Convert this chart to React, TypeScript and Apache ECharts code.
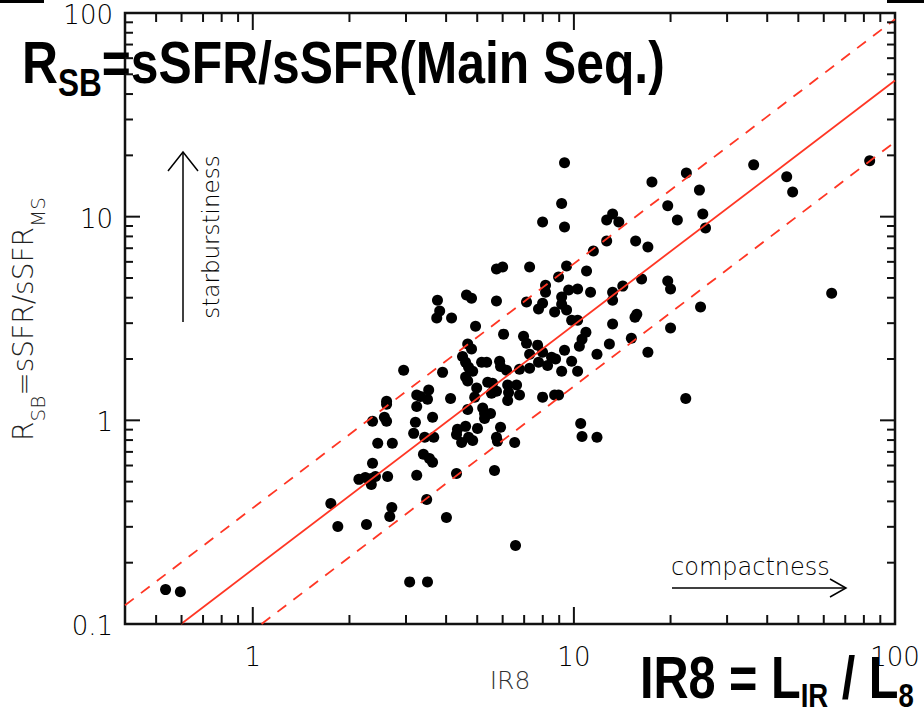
import React, { useEffect, useRef } from 'react';
import * as echarts from 'echarts';

// IR8 (x) and R_SB (y) for each galaxy
const ir8 = [
  9.35, 9.16, 7.99, 9.35, 11.5, 5.74, 6.0, 7.28, 9.49, 10.95,
  8.96, 8.16, 8.16, 9.63, 10.27, 11.27, 3.76, 4.63, 4.8, 5.74,
  7.12, 7.99, 7.76, 9.16, 9.16, 8.71, 9.49, 3.82, 3.74, 4.16,
  4.94, 9.84, 10.27, 36.3, 83.4, 46.0, 48.0, 17.5, 22.4, 24.6,
  19.6, 21.0, 25.2, 25.7, 12.65, 13.2, 13.8, 12.65, 15.57, 17.0,
  13.2, 13.2, 14.2, 16.25, 19.6, 20.0, 63.5, 24.8, 15.7, 15.5,
  13.2, 12.9, 15.1, 20.0, 17.0, 22.3, 6.04, 6.97, 7.12, 4.67,
  4.8, 7.71, 7.99, 9.35, 10.9, 10.6, 10.4, 11.8, 7.28, 4.5,
  4.6, 5.16, 5.35, 5.87, 5.91, 8.52, 8.77, 9.84, 7.76, 7.28,
  8.28, 6.77, 2.95, 3.9, 9.16, 10.27, 4.84, 4.6, 4.67, 6.17,
  5.39, 5.58, 6.22, 6.63, 6.26, 5.74, 5.54, 4.98, 4.7, 6.77,
  7.99, 8.71, 8.96, 6.22, 4.13, 3.53, 3.24, 3.33, 3.5, 3.24,
  2.61, 2.61, 4.91, 4.67, 5.2, 5.27, 5.5, 5.27, 3.63, 3.21,
  2.57, 2.61, 2.36, 5.01, 4.6, 4.34, 4.31, 5.91, 3.17, 3.43,
  3.66, 4.47, 4.7, 4.84, 5.74, 5.78, 6.54, 2.45, 2.72, 10.5,
  10.6, 11.8, 3.4, 3.55, 3.63, 2.36, 2.14, 2.24, 2.34, 2.41,
  2.34, 2.63, 3.24, 4.31, 5.66, 1.75, 1.84, 2.26, 2.71, 2.67,
  3.48, 4.01, 6.58, 3.08, 3.5, 0.535, 0.595,
];
const rsb = [
  18.4, 11.6, 9.42, 8.9, 6.78, 5.53, 5.66, 5.66, 5.72, 5.41,
  5.05, 4.61, 4.26, 4.36, 4.41, 4.26, 3.89, 4.12, 3.98, 3.85,
  3.81, 3.76, 3.52, 4.03, 3.72, 3.4, 3.48, 3.44, 3.18, 3.18,
  2.9, 3.1, 3.1, 17.96, 18.8, 15.7, 13.2, 14.8, 16.4, 13.5,
  11.3, 9.63, 10.3, 8.8, 9.63, 10.3, 9.42, 7.59, 7.59, 7.1,
  4.26, 3.89, 4.56, 4.94, 4.83, 4.41, 4.21, 3.6, 3.32, 3.21,
  2.97, 2.37, 2.53, 2.84, 2.16, 1.28, 2.65, 2.59, 2.39, 2.37,
  2.24, 2.34, 2.16, 2.21, 2.71, 2.5, 2.31, 2.11, 2.11, 2.06,
  1.93, 1.93, 1.93, 1.95, 1.84, 2.04, 2.0, 1.95, 1.93, 1.8,
  1.86, 1.78, 1.76, 1.72, 1.74, 1.74, 1.74, 1.63, 1.56, 1.76,
  1.54, 1.52, 1.49, 1.49, 1.37, 1.39, 1.36, 1.44, 1.82, 1.33,
  1.3, 1.33, 1.33, 1.25, 1.28, 1.41, 1.33, 1.31, 1.27, 1.17,
  1.24, 1.2, 1.3, 1.13, 1.15, 1.08, 1.08, 1.02, 1.035, 0.978,
  1.035, 0.989, 0.989, 0.913, 0.934, 0.903, 0.853, 0.924, 0.863, 0.825,
  0.825, 0.779, 0.825, 0.797, 0.825, 0.79, 0.779, 0.771, 0.771, 0.966,
  0.834, 0.825, 0.681, 0.65, 0.622, 0.615, 0.513, 0.524, 0.518, 0.53,
  0.484, 0.53, 0.537, 0.548, 0.567, 0.391, 0.301, 0.308, 0.373, 0.337,
  0.409, 0.333, 0.243, 0.161, 0.161, 0.1475, 0.144,
];

// relation lines (R_SB vs IR8): main relation and factor-2 envelope
const mainLineX = [0.598, 100];
const mainLineY = [0.1, 46.6];
const upperLineX = [0.4, 100];
const upperLineY = [0.1236, 93.1];
const lowerLineX = [1.065, 100];
const lowerLineY = [0.1, 23.3];

// axis ticks & labels
const xMajorTicks = [1, 10];
const xMinorTicks = [0.5, 0.6, 0.7, 0.8, 0.9, 2, 3, 4, 5, 6, 7, 8, 9, 20, 30, 40, 50, 60, 70, 80, 90];
const yMajorTicks = [1, 10];
const yMinorTicks = [0.2, 0.3, 0.4, 0.5, 0.6, 0.7, 0.8, 0.9, 2, 3, 4, 5, 6, 7, 8, 9, 20, 30, 40, 50, 60, 70, 80, 90];
const xLabelValues = [1, 10, 100];
const xTickLabels = ['1', '10', '100'];
const yLabelValues = [0.1, 1, 10, 100];
const yTickLabels = ['0.1', '1', '10', '100'];

const X_MIN = 0.4, X_MAX = 100, Y_MIN = 0.1, Y_MAX = 100;

const RED = '#ff3624';
const AXIS = '#111111';
const LIGHT_FONT = 'DejaVu Sans';
const LIGHT_WEIGHT = 200;

export default function App() {
  const ref = useRef<HTMLDivElement>(null);

  useEffect(() => {
    if (!ref.current) return;
    const chart = echarts.init(ref.current, undefined, { renderer: 'svg' });

    const points = ir8.map((x, i) => [x, rsb[i]]);
    const pair = (xs: number[], ys: number[]) => xs.map((x, i) => [x, ys[i]]);

    const xTickData = [
      ...xMajorTicks.map((v) => [v, 1, 1]),
      ...xMinorTicks.map((v) => [v, 1, 0]),
    ];
    const yTickData = [
      ...yMajorTicks.map((v) => [1, v, 1]),
      ...yMinorTicks.map((v) => [1, v, 0]),
    ];
    const tickStyle = { stroke: AXIS, lineWidth: 2 };
    const labelStyle = {
      fill: '#000',
      fontSize: 26,
      lineHeight: 24,
      fontFamily: LIGHT_FONT,
      fontWeight: LIGHT_WEIGHT,
    };

    const option: any = {
      animation: false,
      backgroundColor: '#ffffff',
      grid: {
        left: 125,
        top: 13,
        width: 770,
        height: 611,
        show: true,
        borderColor: AXIS,
        borderWidth: 2.5,
        backgroundColor: 'transparent',
      },
      xAxis: {
        type: 'log',
        logBase: 10,
        min: X_MIN,
        max: X_MAX,
        axisLine: { show: false },
        axisTick: { show: false },
        axisLabel: { show: false },
        splitLine: { show: false },
      },
      yAxis: {
        type: 'log',
        logBase: 10,
        min: Y_MIN,
        max: Y_MAX,
        axisLine: { show: false },
        axisTick: { show: false },
        axisLabel: { show: false },
        splitLine: { show: false },
      },
      series: [
        {
          type: 'scatter',
          data: points,
          symbol: 'circle',
          symbolSize: 11,
          itemStyle: { color: '#000000', opacity: 1 },
          z: 2,
        },
        {
          type: 'line',
          data: pair(mainLineX, mainLineY),
          showSymbol: false,
          symbol: 'none',
          clip: true,
          lineStyle: { color: RED, width: 1.8 },
          z: 3,
        },
        {
          type: 'line',
          data: pair(upperLineX, upperLineY),
          showSymbol: false,
          symbol: 'none',
          clip: true,
          lineStyle: { color: RED, width: 1.8, type: [11, 9] },
          z: 3,
        },
        {
          type: 'line',
          data: pair(lowerLineX, lowerLineY),
          showSymbol: false,
          symbol: 'none',
          clip: true,
          lineStyle: { color: RED, width: 1.8, type: [11, 9] },
          z: 3,
        },
        {
          type: 'custom',
          coordinateSystem: 'cartesian2d',
          silent: true,
          clip: false,
          z: 5,
          data: xTickData,
          renderItem: (params: any, api: any) => {
            const cs = params.coordSys;
            const p = api.coord([api.value(0), api.value(1)]);
            const len = api.value(2) ? 17 : 9;
            const bottom = cs.y + cs.height;
            return {
              type: 'group',
              children: [
                { type: 'line', shape: { x1: p[0], y1: bottom, x2: p[0], y2: bottom - len }, style: tickStyle },
                { type: 'line', shape: { x1: p[0], y1: cs.y, x2: p[0], y2: cs.y + len }, style: tickStyle },
              ],
            };
          },
        },
        {
          type: 'custom',
          coordinateSystem: 'cartesian2d',
          silent: true,
          clip: false,
          z: 5,
          data: yTickData,
          renderItem: (params: any, api: any) => {
            const cs = params.coordSys;
            const p = api.coord([api.value(0), api.value(1)]);
            const len = api.value(2) ? 15 : 8;
            const right = cs.x + cs.width;
            return {
              type: 'group',
              children: [
                { type: 'line', shape: { x1: cs.x, y1: p[1], x2: cs.x + len, y2: p[1] }, style: tickStyle },
                { type: 'line', shape: { x1: right, y1: p[1], x2: right - len, y2: p[1] }, style: tickStyle },
              ],
            };
          },
        },
        {
          type: 'custom',
          coordinateSystem: 'cartesian2d',
          silent: true,
          clip: false,
          z: 5,
          data: xLabelValues.map((v) => [v, 1]),
          renderItem: (params: any, api: any) => {
            const cs = params.coordSys;
            const p = api.coord([api.value(0), api.value(1)]);
            return {
              type: 'text',
              x: p[0],
              y: cs.y + cs.height + 33,
              style: {
                ...labelStyle,
                text: xTickLabels[params.dataIndex],
                align: 'center',
                verticalAlign: 'middle',
                textAlign: 'center',
                textVerticalAlign: 'middle',
              },
            };
          },
        },
        {
          type: 'custom',
          coordinateSystem: 'cartesian2d',
          silent: true,
          clip: false,
          z: 5,
          data: yLabelValues.map((v) => [1, v]),
          renderItem: (params: any, api: any) => {
            const cs = params.coordSys;
            const p = api.coord([api.value(0), api.value(1)]);
            return {
              type: 'text',
              x: cs.x - 12,
              y: p[1] + 2,
              style: {
                ...labelStyle,
                text: yTickLabels[params.dataIndex],
                align: 'right',
                verticalAlign: 'middle',
                textAlign: 'right',
                textVerticalAlign: 'middle',
              },
            };
          },
        },
      ],
      graphic: [
        { type: 'rect', shape: { x: 0, y: 0, width: 44, height: 3 }, style: { fill: '#000' } },
        { type: 'rect', shape: { x: 887, y: 0, width: 37, height: 3 }, style: { fill: '#000' } },
        // starburstiness arrow
        { type: 'line', shape: { x1: 183, y1: 322, x2: 183, y2: 152 }, style: { stroke: '#000', lineWidth: 1.5 } },
        { type: 'polyline', shape: { points: [[168, 171], [183, 152], [198, 171]] }, style: { stroke: '#000', lineWidth: 1.5, fill: 'none' } },
        {
          type: 'text',
          x: 211,
          y: 237,
          rotation: Math.PI / 2,
          style: {
            text: 'starburstiness',
            fill: '#000',
            fontSize: 23,
            fontFamily: LIGHT_FONT,
            fontWeight: LIGHT_WEIGHT,
            align: 'center',
            verticalAlign: 'middle',
            textAlign: 'center',
            textVerticalAlign: 'middle',
          },
        },
        // compactness arrow
        {
          type: 'text',
          x: 671,
          y: 567,
          style: {
            text: 'compactness',
            fill: '#000',
            fontSize: 24,
            fontFamily: LIGHT_FONT,
            fontWeight: LIGHT_WEIGHT,
            align: 'left',
            verticalAlign: 'middle',
            textAlign: 'left',
            textVerticalAlign: 'middle',
          },
        },
        { type: 'line', shape: { x1: 672, y1: 588, x2: 846, y2: 588 }, style: { stroke: '#000', lineWidth: 1.5 } },
        { type: 'polyline', shape: { points: [[830, 579], [846, 588], [830, 597]] }, style: { stroke: '#000', lineWidth: 1.5, fill: 'none' } },
        // axis titles
        {
          type: 'text',
          x: 510,
          y: 680,
          style: {
            text: 'IR8',
            fill: '#333',
            fontSize: 25,
            fontFamily: LIGHT_FONT,
            fontWeight: LIGHT_WEIGHT,
            align: 'center',
            verticalAlign: 'middle',
            textAlign: 'center',
            textVerticalAlign: 'middle',
          },
        },
        {
          type: 'text',
          x: 23,
          y: 319,
          rotation: Math.PI / 2,
          style: {
            text: '{m|R}{s|SB}{m|=sSFR/sSFR}{s|MS}',
            align: 'center',
            verticalAlign: 'middle',
            textAlign: 'center',
            textVerticalAlign: 'middle',
            rich: {
              m: { fontSize: 28, lineHeight: 34, fontFamily: LIGHT_FONT, fontWeight: LIGHT_WEIGHT, fill: '#222', color: '#222' },
              s: { fontSize: 20, lineHeight: 20, padding: [30, 0, 0, 0], fontFamily: LIGHT_FONT, fontWeight: LIGHT_WEIGHT, fill: '#222', color: '#222' },
            },
          },
        },
        // big overlay titles
        {
          type: 'text',
          x: 22,
          y: 62,
          scaleX: 0.83,
          style: {
            text: '{m|R}{s|SB}{m|=sSFR/sSFR(Main Seq.)}',
            align: 'left',
            verticalAlign: 'middle',
            textAlign: 'left',
            textVerticalAlign: 'middle',
            rich: {
              m: { fontSize: 60, lineHeight: 70, fontFamily: 'Liberation Sans', fontWeight: 'bold', fill: '#000', color: '#000' },
              s: { fontSize: 38, lineHeight: 38, padding: [40, 0, 0, 0], fontFamily: 'Liberation Sans', fontWeight: 'bold', fill: '#000', color: '#000' },
            },
          },
        },
        {
          type: 'text',
          x: 640,
          y: 678,
          scaleX: 0.81,
          style: {
            text: '{m|IR8 = L}{s|IR}{m| / L}{s|8}',
            align: 'left',
            verticalAlign: 'middle',
            textAlign: 'left',
            textVerticalAlign: 'middle',
            rich: {
              m: { fontSize: 60, lineHeight: 70, fontFamily: 'Liberation Sans', fontWeight: 'bold', fill: '#000', color: '#000' },
              s: { fontSize: 34, lineHeight: 30, padding: [34, 0, 0, 0], fontFamily: 'Liberation Sans', fontWeight: 'bold', fill: '#000', color: '#000' },
            },
          },
        },
      ],
    };

    chart.setOption(option);
    return () => chart.dispose();
  }, []);

  return (
    <div
      ref={ref}
      style={{ position: 'fixed', left: 0, top: 0, width: 924, height: 715, background: '#fff' }}
    />
  );
}
